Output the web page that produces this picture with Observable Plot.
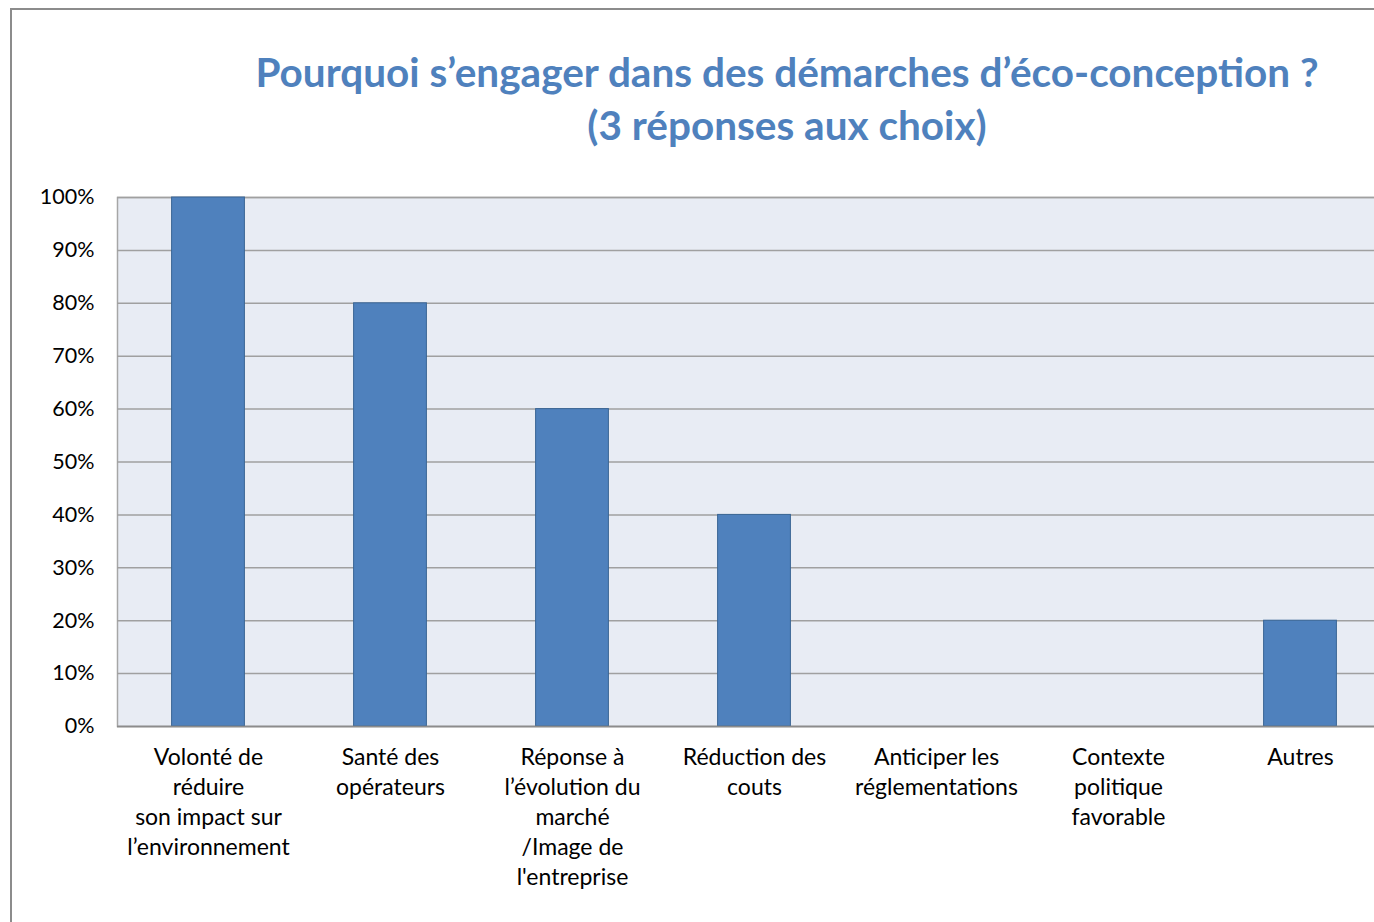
<!DOCTYPE html>
<html>
<head>
<meta charset="utf-8">
<script src="https://cdn.jsdelivr.net/npm/d3@7"></script>
<script src="https://cdn.jsdelivr.net/npm/@observablehq/plot@0.6"></script>
<style>
  html, body { margin: 0; padding: 0; background: #fff; width: 1374px; height: 922px; overflow: hidden; }
  #frame { position: absolute; left: 10px; top: 8px; width: 1400px; height: 1000px; border-left: 2px solid #8c8c8c; border-top: 2px solid #8c8c8c; box-sizing: border-box; }
  #title { position: absolute; left: 0; top: 45px; width: 1574px; text-align: center; font-family: Lato, "Open Sans", sans-serif; font-weight: bold; font-size: 40.5px; line-height: 53px; color: #4f81bd; }
  #chart { position: absolute; left: 0; top: 170px; }
  #chart svg { max-width: none !important; }
</style>
</head>
<body>
<div id="frame"></div>
<div id="title">Pourquoi s’engager dans des démarches d’éco-conception ?<br>(3 réponses aux choix)</div>
<div id="chart"></div>
<script>
const categories = [
  "Volonté de\nréduire\nson impact sur\nl’environnement",
  "Santé des\nopérateurs",
  "Réponse à\nl’évolution du\nmarché\n/Image de\nl'entreprise",
  "Réduction des\ncouts",
  "Anticiper les\nréglementations",
  "Contexte\npolitique\nfavorable",
  "Autres"
];
const values = [1.0, 0.8, 0.6, 0.4, 0, 0, 0.2];
const yTicks = [0, 0.1, 0.2, 0.3, 0.4, 0.5, 0.6, 0.7, 0.8, 0.9, 1.0];

const data = categories.map((c, i) => ({category: c, value: values[i]}));

const plot = Plot.plot({
  width: 1400,
  height: 752,
  marginLeft: 117,
  marginRight: 9,
  marginTop: 27,
  marginBottom: 196,
  style: {fontFamily: "Lato, 'Open Sans', sans-serif", fontSize: "22px", color: "#000", background: "transparent", overflow: "visible", maxWidth: "none"},
  x: {domain: categories, paddingInner: 0.6, paddingOuter: 0.3, round: false, label: null},
  y: {domain: [0, 1], label: null},
  marks: [
    Plot.frame({fill: "#e8ecf4", stroke: "#a6a6a6", strokeWidth: 1.5}),
    Plot.gridY(yTicks, {stroke: "#a0a0a0", strokeOpacity: 1, strokeWidth: 1.5}),
    Plot.barY(data, {x: "category", y: "value", fill: "#4f81bd", stroke: "#3a6594", strokeWidth: 1}),
    Plot.ruleY([0], {stroke: "#8c8c8c", strokeWidth: 1.5}),
    Plot.axisY(yTicks, {tickFormat: d3.format(".0%"), tickSize: 0, tickPadding: 23, fontSize: 21.5, label: null, fill: "#000"}),
    Plot.axisX({tickSize: 0, tickPadding: 17, fontSize: 23, lineHeight: 1.31, label: null, fill: "#000"})
  ]
});
document.getElementById("chart").appendChild(plot);
</script>
</body>
</html>
